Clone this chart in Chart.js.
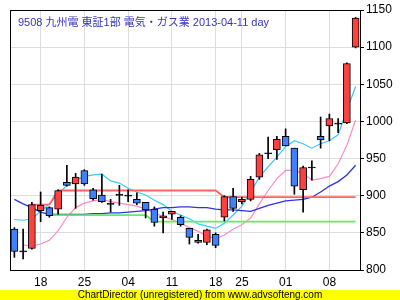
<!DOCTYPE html>
<html><head><meta charset="utf-8">
<script src="https://cdn.jsdelivr.net/npm/chart.js@4.4.1/dist/chart.umd.min.js"></script>
<style>
html,body{margin:0;padding:0;background:#fff;}
#wrap{position:relative;width:400px;height:300px;overflow:hidden;}
#c{position:absolute;left:0;top:0;}
#title{position:absolute;left:18px;top:16px;font-family:"Liberation Sans","Noto Sans CJK JP",sans-serif;font-size:11px;color:#3434c0;white-space:nowrap;line-height:13px;}
#wm{position:absolute;left:0;top:290px;width:400px;height:10px;background:#ffff00;font-family:"Liberation Sans",sans-serif;font-size:10px;line-height:10px;text-align:center;color:#000;white-space:nowrap;}
</style></head><body>
<div id="wrap"><canvas id="c" width="400" height="300"></canvas>
<div id="title">9508 九州電 東証1部 電気・ガス業 2013-04-11 day</div>
<div id="wm">ChartDirector (unregistered) from www.advsofteng.com</div></div>
<script>
const dates = ["2013-02-13","2013-02-14","2013-02-15","2013-02-18","2013-02-19","2013-02-20","2013-02-21","2013-02-22","2013-02-25","2013-02-26","2013-02-27","2013-02-28","2013-03-01","2013-03-04","2013-03-05","2013-03-06","2013-03-07","2013-03-08","2013-03-11","2013-03-12","2013-03-13","2013-03-14","2013-03-15","2013-03-18","2013-03-19","2013-03-21","2013-03-25","2013-03-26","2013-03-27","2013-03-28","2013-03-29","2013-04-01","2013-04-02","2013-04-03","2013-04-04","2013-04-05","2013-04-08","2013-04-09","2013-04-10","2013-04-11"];
const openP  = [855,825,829,880,884,882,918,916,934,908,901,889,901,900,895,891,882,870,875,871,856,840,837,848,871,899,892,895,925,957,962,980,964,908,938,980,994,997,998,1100];
const highP  = [857,855,891,905,885,908,941,930,935,910,929,895,914,908,904,891,885,878,879,873,856,848,855,850,900,910,898,926,957,979,980,990,964,940,947,1006,1010,1004,1079,1140];
const lowP   = [817,815,828,865,871,875,913,883,914,894,891,878,887,892,888,870,859,850,868,859,835,836,834,830,866,879,889,893,922,950,949,967,902,878,921,964,974,985,997,1099];
const closeP = [825,825,888,887,873,907,914,925,916,896,892,889,901,900,890,881,864,873,879,861,844,837,854,833,899,883,895,922,955,957,976,967,913,938,938,975,1004,997,1078,1139];
const maFast = [868,867,869,879,889,902,914,921,926,928,929,920,917,910,905,901,894,888,879,874,869,862,859,856,863,874,886,905,925,939,952,966,974,970,964,970,974,982,1015,1047];
const maMid  = [null,834,832,835,840,853,871,884,890,893,895,892,890,888,886,882,877,872,868,863,857,852,846,842,847,855,861,870,889,907,923,934,934,930,921,923,926,943,968,1002];
const maSlow = [895,889,884,878,875,875,875,875,875,876,876,877,877,878,879,880,882,884,884,885,885,884,884,882,881,881,880,879,883,887,890,893,894,895,898,905,913,919,928,941];
const lineRed   = [null,null,888,888,888,907,907,907,907,907,907,907,907,907,907,907,907,907,907,907,907,907,907,907,898,898,898,898,898,898,898,898,898,898,898,898,898,898,898,898];
const lineGreen = [null,null,null,null,874,874,874,874,874,874,874,874,874,874,874,874,865,865,865,865,865,865,865,865,865,865,865,865,865,865,865,865,865,865,865,865,865,865,865,865];

const dow = dates.map(d => new Date(d + 'T00:00:00Z').getUTCDay());
const weekStart = dates.map((d, i) => i > 0 && dow[i] < dow[i - 1]);
const dayLabel = dates.map(d => d.slice(8));
const UP = '#ff4040', DOWN = '#4080ff', FLAT = '#000000';
const bodies = openP.map((o, i) => o === closeP[i] ? [o - 0.7, o + 0.7] : [o, closeP[i]]);
const bodyColors = openP.map((o, i) => closeP[i] > o ? UP : (closeP[i] < o ? DOWN : FLAT));
const wicks = lowP.map((l, i) => [l, highP[i]]);

const frame = {
  id: 'frame',
  afterDraw(c) {
    const a = c.chartArea, g = c.ctx;
    g.save(); g.strokeStyle = '#000'; g.lineWidth = 1;
    g.strokeRect(a.left + 0.5, a.top + 0.5, a.right - a.left, a.bottom - a.top);
    g.restore();
  }
};
const lineDs = (data, color, w, ord) => ({type: 'line', data, borderColor: color, borderWidth: w, pointRadius: 0, tension: 0, fill: false, order: ord, spanGaps: false});
const font = {family: '"Liberation Sans", Arial, sans-serif', size: 12};

new Chart(document.getElementById('c'), {
  type: 'bar',
  data: {
    labels: dates,
    datasets: [
      {type: 'bar', data: bodies, backgroundColor: bodyColors, borderColor: '#000', borderWidth: 1, borderSkipped: false, barThickness: 7, grouped: false, order: 1},
      {type: 'bar', data: wicks, backgroundColor: '#000', borderWidth: 0, barThickness: 1, grouped: false, order: 2},
      lineDs(lineRed, '#ff6464', 1.8, 3),
      lineDs(lineGreen, '#5cf05c', 1.8, 4),
      lineDs(maSlow, '#3030e8', 1.3, 5),
      lineDs(maMid, '#ff8cc6', 1.2, 6),
      lineDs(maFast, '#3cc8ff', 1.2, 7)
    ]
  },
  options: {
    responsive: false, animation: false, devicePixelRatio: 1,
    layout: {padding: {left: 10, top: 10, right: 0, bottom: 0}},
    plugins: {legend: {display: false}, tooltip: {enabled: false}, title: {display: false}},
    scales: {
      x: {
        type: 'category', offset: true,
        grid: {offset: false, color: ctx => weekStart[ctx.index] ? '#dddddd' : 'rgba(0,0,0,0)', drawTicks: false, lineWidth: 1},
        border: {display: true, color: '#000'},
        ticks: {autoSkip: false, maxRotation: 0, minRotation: 0, padding: 5, color: '#000', font, callback: (v, i) => weekStart[i] ? dayLabel[i] : ''},
        afterFit: s => { s.height = 30; }
      },
      y: {
        position: 'right', min: 800, max: 1150,
        ticks: {stepSize: 50, padding: 2, color: '#000', font, callback: v => String(v)},
        grid: {color: '#dddddd', tickColor: '#000', tickLength: 4, drawTicks: true},
        border: {color: '#000'},
        afterFit: s => { s.width = 40; }
      }
    }
  },
  plugins: [frame]
});
</script>
</body></html>
